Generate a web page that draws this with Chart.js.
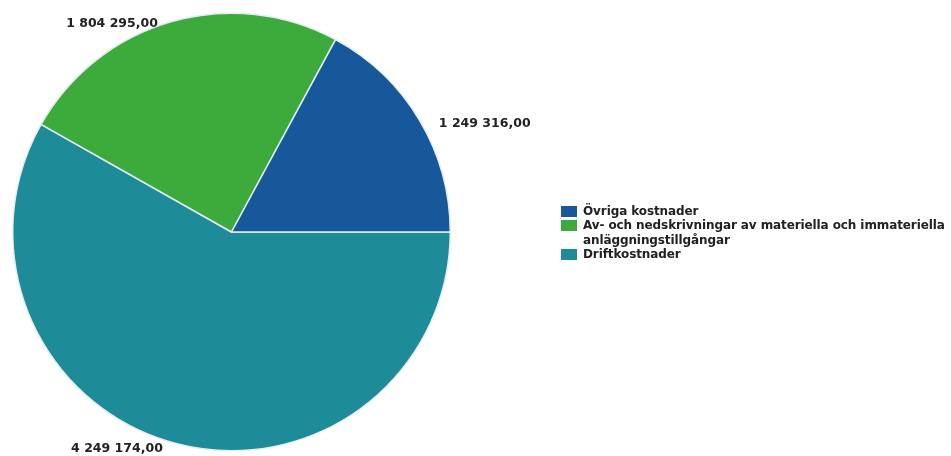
<!DOCTYPE html>
<html>
<head>
<meta charset="utf-8">
<script src="https://cdn.jsdelivr.net/npm/chart.js@4"></script>
<style>
  html, body { margin: 0; padding: 0; background: #fff; }
  #wrap { position: relative; width: 951px; height: 456px; }
  #legend { position: absolute; left: 561px; top: 204px; width: 390px;
    font: bold 12px "DejaVu Sans", sans-serif; color: #222; line-height: 14.3px; letter-spacing: -0.1px; }
  .item { position: relative; padding-left: 22px; }
  .box { position: absolute; left: 0; top: 2px; width: 16px; height: 11px; }
</style>
</head>
<body>
<div id="wrap">
  <canvas id="chart" width="951" height="456"></canvas>
  <div id="legend"></div>
</div>
<script>
const categories = ['Övriga kostnader', 'Av- och nedskrivningar av materiella och immateriella anläggningstillgångar', 'Driftkostnader'];
const values = [1249316.00, 1804295.00, 4249174.00];
const colors = ['#17589a', '#3dab3b', '#1e8b98'];

function fmt(v) {
  const [i, d] = v.toFixed(2).split('.');
  return i.replace(/\B(?=(\d{3})+(?!\d))/g, ' ') + ',' + d;
}

// slices run counterclockwise from 3 o'clock in the original, so feed them reversed
const order = values.map((_, i) => values.length - 1 - i);

const outsideLabels = {
  id: 'outsideLabels',
  afterDatasetsDraw(chart) {
    const ctx = chart.ctx;
    const arcs = chart.getDatasetMeta(0).data;
    ctx.save();
    ctx.font = 'bold 12.5px "DejaVu Sans", sans-serif';
    ctx.fillStyle = '#222';
    ctx.textBaseline = 'top';
    arcs.forEach((arc, i) => {
      const mid = (arc.startAngle + arc.endAngle) / 2;
      const r = arc.outerRadius + 4;
      const right = Math.cos(mid) >= 0;
      const below = Math.sin(mid) > 0.5;
      const x = arc.x + Math.cos(mid) * r + (right ? 16 : -12);
      const y = arc.y + Math.sin(mid) * r - (below ? 5 : 0);
      ctx.textAlign = right ? 'left' : 'right';
      ctx.fillText(fmt(values[order[i]]), x, y);
    });
    ctx.restore();
  }
};

new Chart(document.getElementById('chart'), {
  type: 'pie',
  data: {
    labels: order.map(i => categories[i]),
    datasets: [{
      data: order.map(i => values[i]),
      backgroundColor: order.map(i => colors[i]),
      borderColor: '#e4eef0',
      borderWidth: 1.5
    }]
  },
  options: {
    responsive: false,
    animation: false,
    rotation: 90,
    layout: { padding: { left: 12, top: 12, right: 500, bottom: 4 } },
    plugins: { legend: { display: false }, tooltip: { enabled: false } }
  },
  plugins: [outsideLabels]
});

const legend = document.getElementById('legend');
categories.forEach((c, i) => {
  const el = document.createElement('div');
  el.className = 'item';
  el.innerHTML = `<span class="box" style="background:${colors[i]}"></span>${c}`;
  legend.appendChild(el);
});
</script>
</body>
</html>
